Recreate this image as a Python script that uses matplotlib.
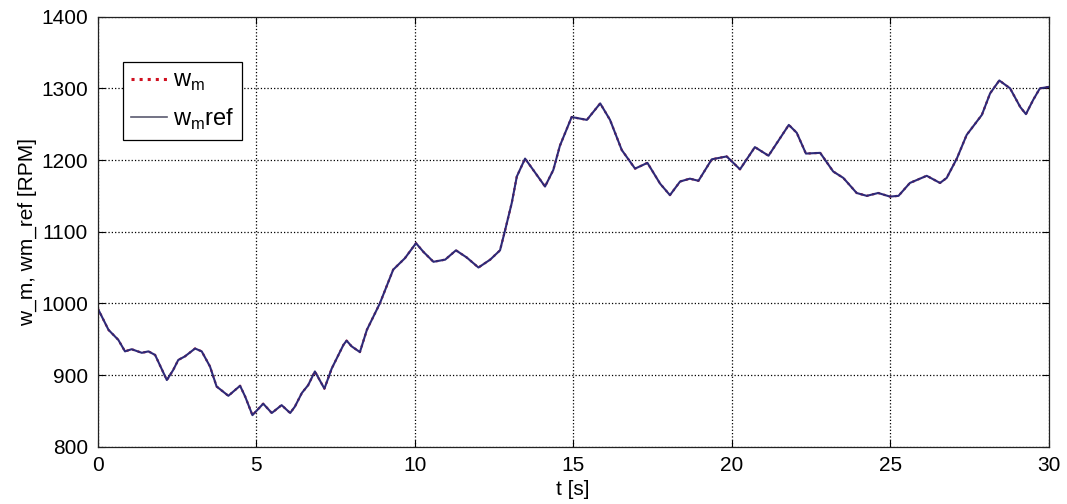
import matplotlib
matplotlib.use('Agg')
import matplotlib.pyplot as plt

# time samples [s]
t = [0.0, 0.34, 0.65, 0.86, 1.07, 1.39, 1.6, 1.81, 2.18, 2.38, 2.54, 2.75,
     3.07, 3.28, 3.54, 3.75, 4.12, 4.49, 4.65, 4.88, 5.22, 5.49, 5.8, 6.07,
     6.22, 6.44, 6.64, 6.85, 7.15, 7.38, 7.75, 7.85, 8.01, 8.27, 8.49, 8.9,
     9.32, 9.69, 10.04, 10.27, 10.59, 10.96, 11.3, 11.64, 12.01, 12.38, 12.69,
     12.85, 13.06, 13.22, 13.48, 13.74, 14.11, 14.37, 14.58, 14.95, 15.43,
     15.85, 16.16, 16.53, 16.95, 17.34, 17.74, 18.05, 18.37, 18.68, 18.95,
     19.37, 19.84, 20.26, 20.73, 21.16, 21.8, 22.05, 22.34, 22.79, 23.2,
     23.52, 23.94, 24.26, 24.62, 24.99, 25.26, 25.62, 26.15, 26.57, 26.78,
     27.1, 27.41, 27.89, 28.15, 28.44, 28.78, 29.1, 29.28, 29.51, 29.72, 30.0]

# reference speed [RPM]
w_m_ref = [993, 963, 949, 933, 936, 931, 933, 928, 893, 907, 921, 926,
           937, 933, 912, 884, 871, 885, 870, 844, 860, 847, 858, 847,
           856, 875, 886, 905, 881, 909, 942, 948, 940, 932, 963, 1000,
           1047, 1063, 1084, 1072, 1058, 1061, 1074, 1064, 1050, 1061, 1074,
           1102, 1140, 1177, 1202, 1186, 1163, 1186, 1220, 1260, 1256,
           1279, 1256, 1214, 1188, 1196, 1167, 1151, 1170, 1174, 1171,
           1201, 1205, 1187, 1218, 1206, 1249, 1238, 1209, 1210, 1184,
           1175, 1154, 1150, 1154, 1149, 1150, 1168, 1178, 1168, 1175,
           1202, 1235, 1263, 1293, 1311, 1300, 1274, 1264, 1284, 1300, 1302]

# measured speed follows the reference (overlapping in the plot)
w_m = [993, 963, 949, 933, 936, 931, 933, 928, 893, 907, 921, 926,
       937, 933, 912, 884, 871, 885, 870, 844, 860, 847, 858, 847,
       856, 875, 886, 905, 881, 909, 942, 948, 940, 932, 963, 1000,
       1047, 1063, 1084, 1072, 1058, 1061, 1074, 1064, 1050, 1061, 1074,
       1102, 1140, 1177, 1202, 1186, 1163, 1186, 1220, 1260, 1256,
       1279, 1256, 1214, 1188, 1196, 1167, 1151, 1170, 1174, 1171,
       1201, 1205, 1187, 1218, 1206, 1249, 1238, 1209, 1210, 1184,
       1175, 1154, 1150, 1154, 1149, 1150, 1168, 1178, 1168, 1175,
       1202, 1235, 1263, 1293, 1311, 1300, 1274, 1264, 1284, 1300, 1302]

x_ticks = [0, 5, 10, 15, 20, 25, 30]
y_ticks = [800, 900, 1000, 1100, 1200, 1300, 1400]

plt.rcParams['font.family'] = ['Liberation Sans', 'DejaVu Sans']

fig = plt.figure(figsize=(10.67, 5.04), dpi=100)
ax = fig.add_axes([0.0916, 0.1137, 0.8913, 0.8532])

ax.plot(t, w_m, color='#d01020', linestyle=':', linewidth=1.6, label='w$_\\mathregular{m}$')
ax.plot(t, w_m_ref, color='#2e2a78', linewidth=1.5, label='w$_\\mathregular{m}$ref')

ax.set_xlim(0, 30)
ax.set_ylim(800, 1400)
ax.set_xticks(x_ticks)
ax.set_yticks(y_ticks)

ax.grid(True, color='black', linestyle=':', linewidth=0.9)
ax.tick_params(direction='in', length=5, width=0.8, labelsize=15,
               top=True, right=True)
ax.tick_params(axis='x', pad=7)
ax.tick_params(axis='y', pad=7)
for s in ax.spines.values():
    s.set_linewidth(0.9)
    s.set_color('#222222')

ax.set_xlabel('t [s]', fontsize=15, labelpad=3)
ax.set_ylabel('w_m, wm_ref [RPM]', fontsize=15, labelpad=3)

leg = ax.legend(loc='upper left', bbox_to_anchor=(0.0266, 0.8947), fontsize=17,
                handlelength=1.5, handletextpad=0.25, borderpad=0.35,
                borderaxespad=0, labelspacing=0.55, fancybox=False,
                framealpha=1, edgecolor='black')
leg.get_frame().set_linewidth(0.9)
leg.get_lines()[0].set_linewidth(2.2)
leg.get_lines()[1].set_color('#5a5a70')
leg.get_lines()[1].set_linewidth(1.2)

fig.savefig('out.png', dpi=100)
